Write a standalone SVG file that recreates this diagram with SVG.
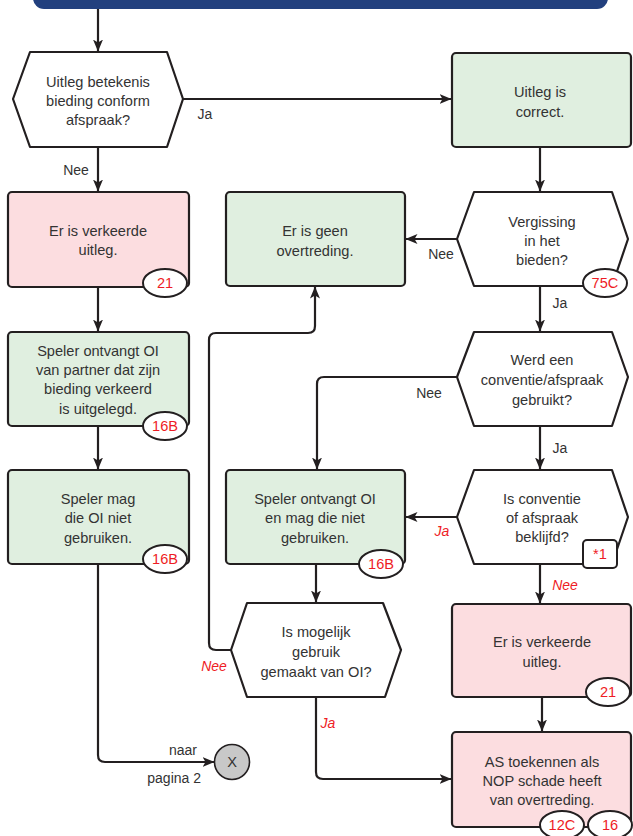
<svg xmlns="http://www.w3.org/2000/svg" width="633" height="836" viewBox="0 0 633 836">
<defs>
<marker id="ah" viewBox="0 0 12 10" refX="11.5" refY="5" markerWidth="12" markerHeight="10" markerUnits="userSpaceOnUse" orient="auto">
<path d="M0,0 L12,5 L0,10 L3,5 z" fill="#231f20"/>
</marker>
</defs>
<style>
text{font-family:"Liberation Sans",Arial,sans-serif;font-size:14.6px;fill:#333333;text-anchor:middle}
.sh{stroke:#231f20;stroke-width:2.2;stroke-linejoin:round}
.g{fill:#e0efe0}
.p{fill:#fcdde0}
.w{fill:#ffffff}
.bd{fill:#ffffff;stroke:#231f20;stroke-width:2}
.bt{fill:#ee1c25;font-size:14.6px}
.c{fill:none;stroke:#231f20;stroke-width:2.2;marker-end:url(#ah)}
.lb{font-size:14px}
.ri{fill:#ee1c25;font-style:italic;font-size:14px}
</style>
<rect x="33" y="-30" width="575" height="39" rx="11" fill="#22407e"/>
<g id="connectors">
<path class="c" d="M98,9 L98,51"/>
<path class="c" d="M183,99 L451,99"/>
<path class="c" d="M98,147 L98,191"/>
<path class="c" d="M98,287 L98,331"/>
<path class="c" d="M98,426 L98,469"/>
<path class="c" d="M98,564 L98,755 Q98,762 105,762 L214,762"/>
<path class="c" d="M540,147 L540,191"/>
<path class="c" d="M457,239 L406,239"/>
<path class="c" d="M540,286 L540,331"/>
<path class="c" d="M457,377 L324,377 Q317,377 317,384 L317,469"/>
<path class="c" d="M540,426 L540,469"/>
<path class="c" d="M457,517 L406,517"/>
<path class="c" d="M540,564 L540,603"/>
<path class="c" d="M316,564 L316,602"/>
<path class="c" d="M231,650 L216,650 Q209,650 209,643 L209,340 Q209,333 216,333 L308,333 Q315,333 315,326 L315,287"/>
<path class="c" d="M316,697 L316,772 Q316,779 323,779 L451,779"/>
<path class="c" d="M542,697 L542,731"/>
<text x="205" y="119" class="lb">Ja</text>
<text x="76" y="175" class="lb">Nee</text>
<text x="441" y="259" class="lb">Nee</text>
<text x="560" y="308" class="lb">Ja</text>
<text x="429" y="398" class="lb">Nee</text>
<text x="560" y="453" class="lb">Ja</text>
<text x="442" y="536" class="ri">Ja</text>
<text x="565" y="590" class="ri">Nee</text>
<text x="214" y="671" class="ri">Nee</text>
<text x="328" y="728" class="ri">Ja</text>
<text x="197" y="755" class="lb" style="text-anchor:end">naar</text>
<text x="201" y="783" class="lb" style="text-anchor:end">pagina 2</text>
</g>
<g id="q1">
<polygon class="sh w" points="30,52 167,52 183,99 167,147 30,147 13,99"/>
<text x="98" y="87">Uitleg betekenis</text>
<text x="98" y="106">bieding conform</text>
<text x="98" y="125">afspraak?</text>
</g>
<g id="correct">
<rect class="sh g" x="452" y="53" width="179" height="94" rx="4"/>
<text x="540" y="97">Uitleg is</text>
<text x="540" y="117">correct.</text>
</g>
<g id="verkeerd1">
<rect class="sh p" x="8" y="192" width="181" height="95" rx="4"/>
<text x="98" y="236">Er is verkeerde</text>
<text x="98" y="255">uitleg.</text>
<ellipse class="bd" cx="165" cy="283" rx="22" ry="14"/>
<text x="165" y="288" class="bt">21</text>
</g>
<g id="speler1">
<rect class="sh g" x="8" y="332" width="181" height="94" rx="4"/>
<text x="98" y="356">Speler ontvangt OI</text>
<text x="98" y="375">van partner dat zijn</text>
<text x="98" y="394">bieding verkeerd</text>
<text x="98" y="414">is uitgelegd.</text>
<ellipse class="bd" cx="165" cy="426" rx="22" ry="14"/>
<text x="165" y="431" class="bt">16B</text>
</g>
<g id="speler2">
<rect class="sh g" x="8" y="470" width="181" height="94" rx="4"/>
<text x="98" y="504">Speler mag</text>
<text x="98" y="523">die OI niet</text>
<text x="98" y="543">gebruiken.</text>
<ellipse class="bd" cx="165" cy="559" rx="22" ry="14"/>
<text x="165" y="564" class="bt">16B</text>
</g>
<g id="naar">
<circle cx="232" cy="762" r="17.5" fill="#c8c8c8" stroke="#231f20" stroke-width="1.6"/>
<text x="232" y="767">X</text>
</g>
<g id="geen">
<rect class="sh g" x="226" y="192" width="179" height="94" rx="4"/>
<text x="315" y="236">Er is geen</text>
<text x="315" y="256">overtreding.</text>
</g>
<g id="vergissing">
<polygon class="sh w" points="474,192 612,192 628,239 612,286 474,286 457,239"/>
<text x="542" y="227">Vergissing</text>
<text x="542" y="246">in het</text>
<text x="542" y="265">bieden?</text>
<ellipse class="bd" cx="605" cy="283" rx="22" ry="14"/>
<text x="605" y="288" class="bt">75C</text>
</g>
<g id="werd">
<polygon class="sh w" points="474,332 612,332 628,377 612,426 474,426 457,377"/>
<text x="542" y="365">Werd een</text>
<text x="542" y="385">conventie/afspraak</text>
<text x="542" y="405">gebruikt?</text>
</g>
<g id="beklijfd">
<polygon class="sh w" points="474,470 612,470 628,517 612,564 474,564 457,517"/>
<text x="542" y="504">Is conventie</text>
<text x="542" y="523">of afspraak</text>
<text x="542" y="542">beklijfd?</text>
<rect class="bd" x="583" y="540" width="34" height="28" rx="4"/>
<text x="600" y="559" class="bt">*1</text>
</g>
<g id="speler3">
<rect class="sh g" x="226" y="470" width="179" height="94" rx="4"/>
<text x="315" y="504">Speler ontvangt OI</text>
<text x="315" y="523">en mag die niet</text>
<text x="315" y="543">gebruiken.</text>
<ellipse class="bd" cx="381" cy="564" rx="22" ry="14"/>
<text x="381" y="569" class="bt">16B</text>
</g>
<g id="mogelijk">
<polygon class="sh w" points="247,603 383,603 401,650 385,697 247,697 231,650"/>
<text x="316" y="637">Is mogelijk</text>
<text x="316" y="657">gebruik</text>
<text x="316" y="677">gemaakt van OI?</text>
</g>
<g id="verkeerd2">
<rect class="sh p" x="452" y="604" width="179" height="93" rx="4"/>
<text x="542" y="647">Er is verkeerde</text>
<text x="542" y="667">uitleg.</text>
<ellipse class="bd" cx="608" cy="692" rx="22" ry="14"/>
<text x="608" y="697" class="bt">21</text>
</g>
<g id="as">
<rect class="sh p" x="452" y="732" width="179" height="95" rx="4"/>
<text x="542" y="767">AS toekennen als</text>
<text x="542" y="786">NOP schade heeft</text>
<text x="542" y="805">van overtreding.</text>
<ellipse class="bd" cx="562" cy="825" rx="22" ry="14"/>
<text x="562" y="830" class="bt">12C</text>
<ellipse class="bd" cx="610" cy="825" rx="22" ry="14"/>
<text x="610" y="830" class="bt">16</text>
</g>
</svg>
